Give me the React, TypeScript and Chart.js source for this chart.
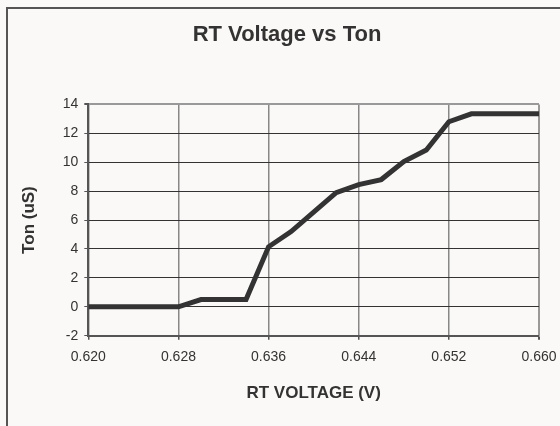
import React, { useEffect, useRef } from "react";
import { Chart, registerables } from "chart.js";

Chart.register(...registerables);

const voltage = [0.620, 0.622, 0.624, 0.626, 0.628, 0.630, 0.632, 0.634, 0.636, 0.638, 0.640, 0.642, 0.644, 0.646, 0.648, 0.650, 0.652, 0.654, 0.656, 0.658, 0.660];
const ton = [0, 0, 0, 0, 0, 0.5, 0.5, 0.5, 4.15, 5.2, 6.55, 7.9, 8.45, 8.8, 10.05, 10.85, 12.8, 13.35, 13.35, 13.35, 13.35];
const yTickMin = -2;
const yTickMax = 14;
const yTickStep = 2;
const xTickMin = 0.62;
const xTickMax = 0.66;
const xTickStep = 0.008;

const FONT = "'Liberation Sans', Arial, sans-serif";
const TEXT = "#333333";

export default function App() {
  const ref = useRef<HTMLCanvasElement | null>(null);

  useEffect(() => {
    document.body.style.margin = "0";
    const canvas = ref.current;
    if (!canvas) return;
    const chart = new Chart(canvas, {
      type: "line",
      data: {
        datasets: [
          {
            data: voltage.map((v, i) => ({ x: v, y: ton[i] })),
            borderColor: "#333333",
            borderWidth: 5,
            pointRadius: 0,
            tension: 0,
            fill: false,
          },
        ],
      },
      options: {
        animation: false,
        responsive: false,
        devicePixelRatio: 1,
        layout: { padding: { left: 35, right: 35, top: 0, bottom: 0 } },
        plugins: {
          legend: { display: false },
          tooltip: { enabled: false },
          title: {
            display: true,
            text: "RT Voltage vs Ton",
            color: TEXT,
            font: { family: FONT, size: 22, weight: "bold", lineHeight: 1.2 },
            padding: { top: 22, bottom: 56 },
          },
        },
        scales: {
          x: {
            type: "linear",
            min: xTickMin,
            max: xTickMax,
            afterFit: (scale: any) => {
              scale.height = 90.3;
            },
            ticks: {
              stepSize: xTickStep,
              color: TEXT,
              font: { family: FONT, size: 14 },
              padding: 9,
              maxRotation: 0,
              callback: (v: any) => Number(v).toFixed(3),
            },
            grid: {
              color: (ctx: any) => (ctx.index === 5 ? "#999999" : "#888888"),
              lineWidth: (ctx: any) => (ctx.index === 5 ? 2 : 1.5),
              tickLength: 4,
              tickColor: "#555555",
            },
            border: { color: "#555555", width: 2 },
            title: {
              display: true,
              text: "RT VOLTAGE (V)",
              color: TEXT,
              font: { family: FONT, size: 17, weight: "bold", lineHeight: 1.2 },
              padding: { top: 0, bottom: 22 },
            },
          },
          y: {
            min: yTickMin,
            max: yTickMax,
            afterFit: (scale: any) => {
              scale.width = 53.3;
            },
            ticks: {
              stepSize: yTickStep,
              color: TEXT,
              font: { family: FONT, size: 14 },
              padding: 6,
            },
            grid: {
              color: (ctx: any) => (ctx.tick && ctx.tick.value === yTickMax ? "#999999" : "#333333"),
              lineWidth: (ctx: any) => (ctx.tick && ctx.tick.value === yTickMax ? 2 : 1),
              tickLength: 4,
              tickColor: "#555555",
            },
            border: { color: "#555555", width: 2 },
            title: {
              display: true,
              text: "Ton (uS)",
              color: TEXT,
              font: { family: FONT, size: 17, weight: "bold", lineHeight: 1.2 },
              padding: { top: -16.2, bottom: 0 },
            },
          },
        },
      },
    });
    return () => chart.destroy();
  }, []);

  return (
    <div
      style={{
        position: "fixed",
        left: 0,
        top: 0,
        width: 560,
        height: 426,
        overflow: "hidden",
        background: "#faf9f7",
      }}
    >
      <div
        style={{
          position: "absolute",
          left: 6,
          top: 7,
          width: 700,
          height: 600,
          borderLeft: "2px solid #555555",
          borderTop: "2px solid #555555",
        }}
      />
      <canvas
        ref={ref}
        width={574}
        height={426}
        style={{ position: "absolute", left: 0, top: 0, width: 574, height: 426 }}
      />
    </div>
  );
}
